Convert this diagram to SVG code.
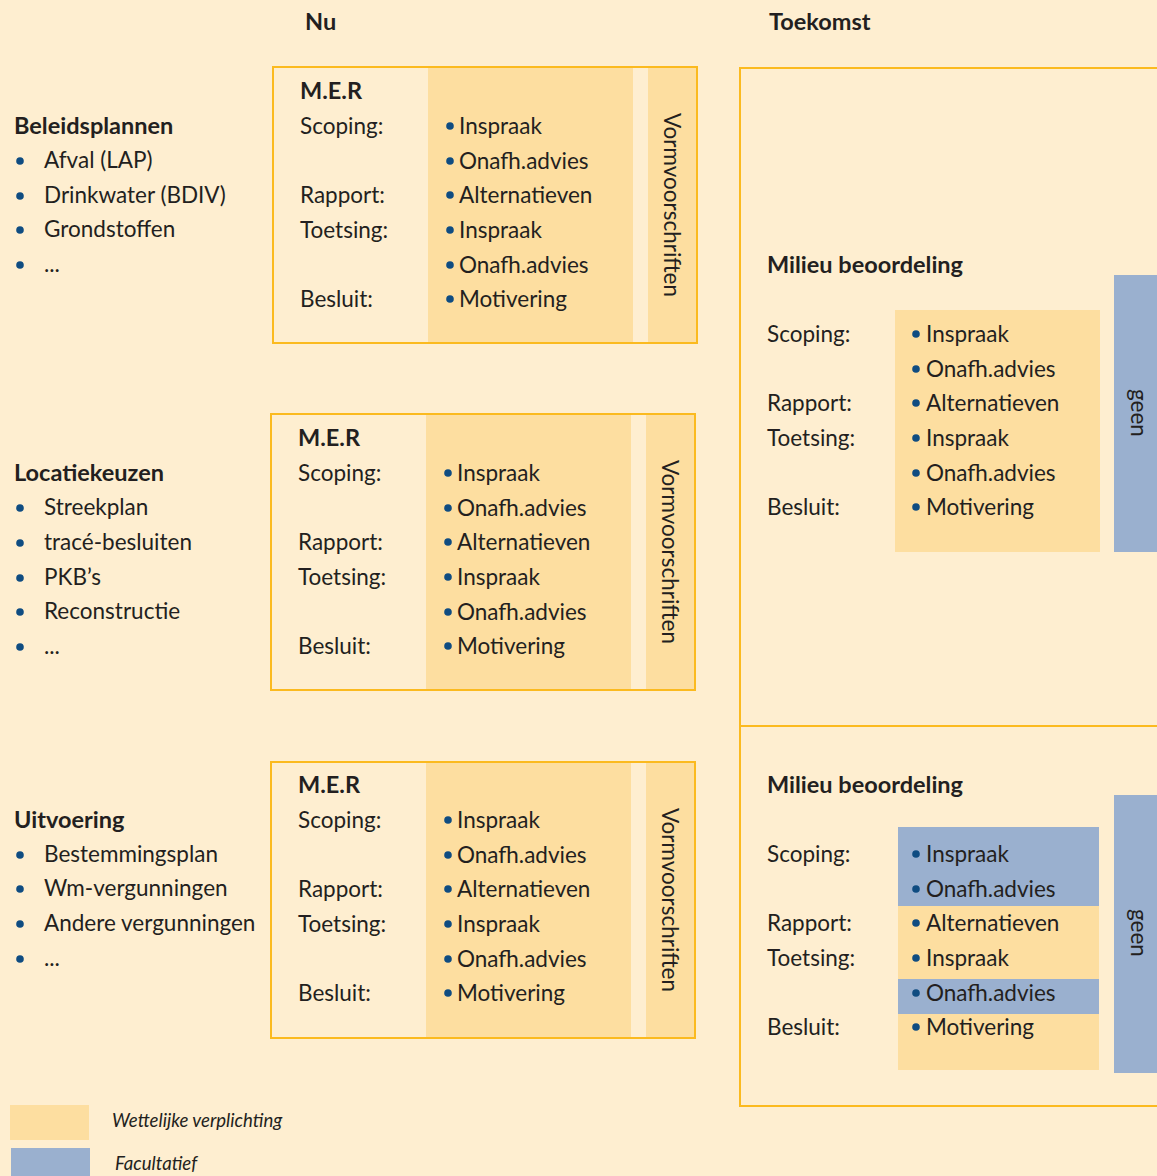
<svg xmlns="http://www.w3.org/2000/svg" width="1157" height="1176" viewBox="0 0 1157 1176">
<style>
text{font-family:Lato,"Open Sans",sans-serif;fill:#231f20;font-size:22.5px}
.b{font-weight:bold;font-size:23.5px}
.it{font-style:italic;font-size:18.6px}
.frame{fill:#feeed0;stroke:#fbba1f;stroke-width:2}
.or{fill:#fddea0}
.bl{fill:#9ab0cf}
.dot{fill:#0f4c81}
</style>
<defs>
<circle id="d" r="3.8" class="dot"/>
</defs>
<rect width="1157" height="1176" fill="#feeed0"/>
<text x="305" y="30" class="b">Nu</text>
<text x="769" y="30" class="b">Toekomst</text>

<g id="list-beleid">
<text x="14" y="134" class="b">Beleidsplannen</text>
<use href="#d" x="20" y="161"/><text x="44" y="168">Afval (LAP)</text>
<use href="#d" x="20" y="196"/><text x="44" y="203">Drinkwater (BDIV)</text>
<use href="#d" x="20" y="230"/><text x="44" y="237">Grondstoffen</text>
<use href="#d" x="20" y="265"/><text x="44" y="272">...</text>
</g>
<g id="list-locatie">
<text x="14" y="481" class="b">Locatiekeuzen</text>
<use href="#d" x="20" y="508"/><text x="44" y="515">Streekplan</text>
<use href="#d" x="20" y="543"/><text x="44" y="550">tracé-besluiten</text>
<use href="#d" x="20" y="578"/><text x="44" y="585">PKB’s</text>
<use href="#d" x="20" y="612"/><text x="44" y="619">Reconstructie</text>
<use href="#d" x="20" y="647"/><text x="44" y="654">...</text>
</g>
<g id="list-uitvoering">
<text x="14" y="828" class="b">Uitvoering</text>
<use href="#d" x="20" y="855"/><text x="44" y="862">Bestemmingsplan</text>
<use href="#d" x="20" y="889"/><text x="44" y="896">Wm-vergunningen</text>
<use href="#d" x="20" y="924"/><text x="44" y="931">Andere vergunningen</text>
<use href="#d" x="20" y="959"/><text x="44" y="966">...</text>
</g>

<g id="mer1">
<rect x="273" y="67" width="424" height="276" class="frame"/>
<rect x="428" y="68" width="205" height="274" class="or"/>
<rect x="648" y="68" width="48" height="274" class="or"/>
<text x="300" y="99" class="b">M.E.R</text>
<text x="300" y="134">Scoping:</text>
<text x="300" y="203">Rapport:</text>
<text x="300" y="238">Toetsing:</text>
<text x="300" y="307">Besluit:</text>
<use href="#d" x="450" y="126"/><text x="459" y="134">Inspraak</text>
<use href="#d" x="450" y="161"/><text x="459" y="169">Onafh.advies</text>
<use href="#d" x="450" y="195"/><text x="459" y="203">Alternatieven</text>
<use href="#d" x="450" y="230"/><text x="459" y="238">Inspraak</text>
<use href="#d" x="450" y="265"/><text x="459" y="273">Onafh.advies</text>
<use href="#d" x="450" y="299"/><text x="459" y="307">Motivering</text>
<text transform="translate(664,205) rotate(90)" text-anchor="middle">Vormvoorschriften</text>
</g>

<g id="mer2">
<rect x="271" y="414" width="424" height="276" class="frame"/>
<rect x="426" y="415" width="205" height="274" class="or"/>
<rect x="646" y="415" width="48" height="274" class="or"/>
<text x="298" y="446" class="b">M.E.R</text>
<text x="298" y="481">Scoping:</text>
<text x="298" y="550">Rapport:</text>
<text x="298" y="585">Toetsing:</text>
<text x="298" y="654">Besluit:</text>
<use href="#d" x="448" y="473"/><text x="457" y="481">Inspraak</text>
<use href="#d" x="448" y="508"/><text x="457" y="516">Onafh.advies</text>
<use href="#d" x="448" y="542"/><text x="457" y="550">Alternatieven</text>
<use href="#d" x="448" y="577"/><text x="457" y="585">Inspraak</text>
<use href="#d" x="448" y="612"/><text x="457" y="620">Onafh.advies</text>
<use href="#d" x="448" y="646"/><text x="457" y="654">Motivering</text>
<text transform="translate(662,552) rotate(90)" text-anchor="middle">Vormvoorschriften</text>
</g>

<g id="mer3">
<rect x="271" y="762" width="424" height="276" class="frame"/>
<rect x="426" y="763" width="205" height="274" class="or"/>
<rect x="646" y="763" width="48" height="274" class="or"/>
<text x="298" y="793" class="b">M.E.R</text>
<text x="298" y="828">Scoping:</text>
<text x="298" y="897">Rapport:</text>
<text x="298" y="932">Toetsing:</text>
<text x="298" y="1001">Besluit:</text>
<use href="#d" x="448" y="820"/><text x="457" y="828">Inspraak</text>
<use href="#d" x="448" y="855"/><text x="457" y="863">Onafh.advies</text>
<use href="#d" x="448" y="889"/><text x="457" y="897">Alternatieven</text>
<use href="#d" x="448" y="924"/><text x="457" y="932">Inspraak</text>
<use href="#d" x="448" y="959"/><text x="457" y="967">Onafh.advies</text>
<use href="#d" x="448" y="993"/><text x="457" y="1001">Motivering</text>
<text transform="translate(662,900) rotate(90)" text-anchor="middle">Vormvoorschriften</text>
</g>

<g id="milieu1">
<rect x="740" y="68" width="420" height="658" class="frame"/>
<rect x="895" y="310" width="205" height="242" class="or"/>
<rect x="1114" y="275" width="45" height="277" class="bl"/>
<text x="767" y="273" class="b">Milieu beoordeling</text>
<text x="767" y="342">Scoping:</text>
<text x="767" y="411">Rapport:</text>
<text x="767" y="446">Toetsing:</text>
<text x="767" y="515">Besluit:</text>
<use href="#d" x="916" y="334"/><text x="926" y="342">Inspraak</text>
<use href="#d" x="916" y="369"/><text x="926" y="377">Onafh.advies</text>
<use href="#d" x="916" y="403"/><text x="926" y="411">Alternatieven</text>
<use href="#d" x="916" y="438"/><text x="926" y="446">Inspraak</text>
<use href="#d" x="916" y="473"/><text x="926" y="481">Onafh.advies</text>
<use href="#d" x="916" y="507"/><text x="926" y="515">Motivering</text>
<text transform="translate(1131,413) rotate(90)" text-anchor="middle">geen</text>
</g>

<g id="milieu2">
<rect x="740" y="726" width="420" height="380" class="frame"/>
<rect x="898" y="827" width="201" height="79" class="bl"/>
<rect x="898" y="906" width="201" height="73" class="or"/>
<rect x="898" y="979" width="201" height="35" class="bl"/>
<rect x="898" y="1014" width="201" height="56" class="or"/>
<rect x="1114" y="795" width="45" height="278" class="bl"/>
<text x="767" y="793" class="b">Milieu beoordeling</text>
<text x="767" y="862">Scoping:</text>
<text x="767" y="931">Rapport:</text>
<text x="767" y="966">Toetsing:</text>
<text x="767" y="1035">Besluit:</text>
<use href="#d" x="916" y="854"/><text x="926" y="862">Inspraak</text>
<use href="#d" x="916" y="889"/><text x="926" y="897">Onafh.advies</text>
<use href="#d" x="916" y="923"/><text x="926" y="931">Alternatieven</text>
<use href="#d" x="916" y="958"/><text x="926" y="966">Inspraak</text>
<use href="#d" x="916" y="993"/><text x="926" y="1001">Onafh.advies</text>
<use href="#d" x="916" y="1027"/><text x="926" y="1035">Motivering</text>
<text transform="translate(1131,933) rotate(90)" text-anchor="middle">geen</text>
</g>

<g id="connectors"/>

<g id="legend">
<rect x="10" y="1105" width="79" height="35" class="or"/>
<rect x="11" y="1148" width="79" height="30" class="bl"/>
<text x="112" y="1127" class="it">Wettelijke verplichting</text>
<text x="115" y="1170" class="it">Facultatief</text>
</g>
</svg>
